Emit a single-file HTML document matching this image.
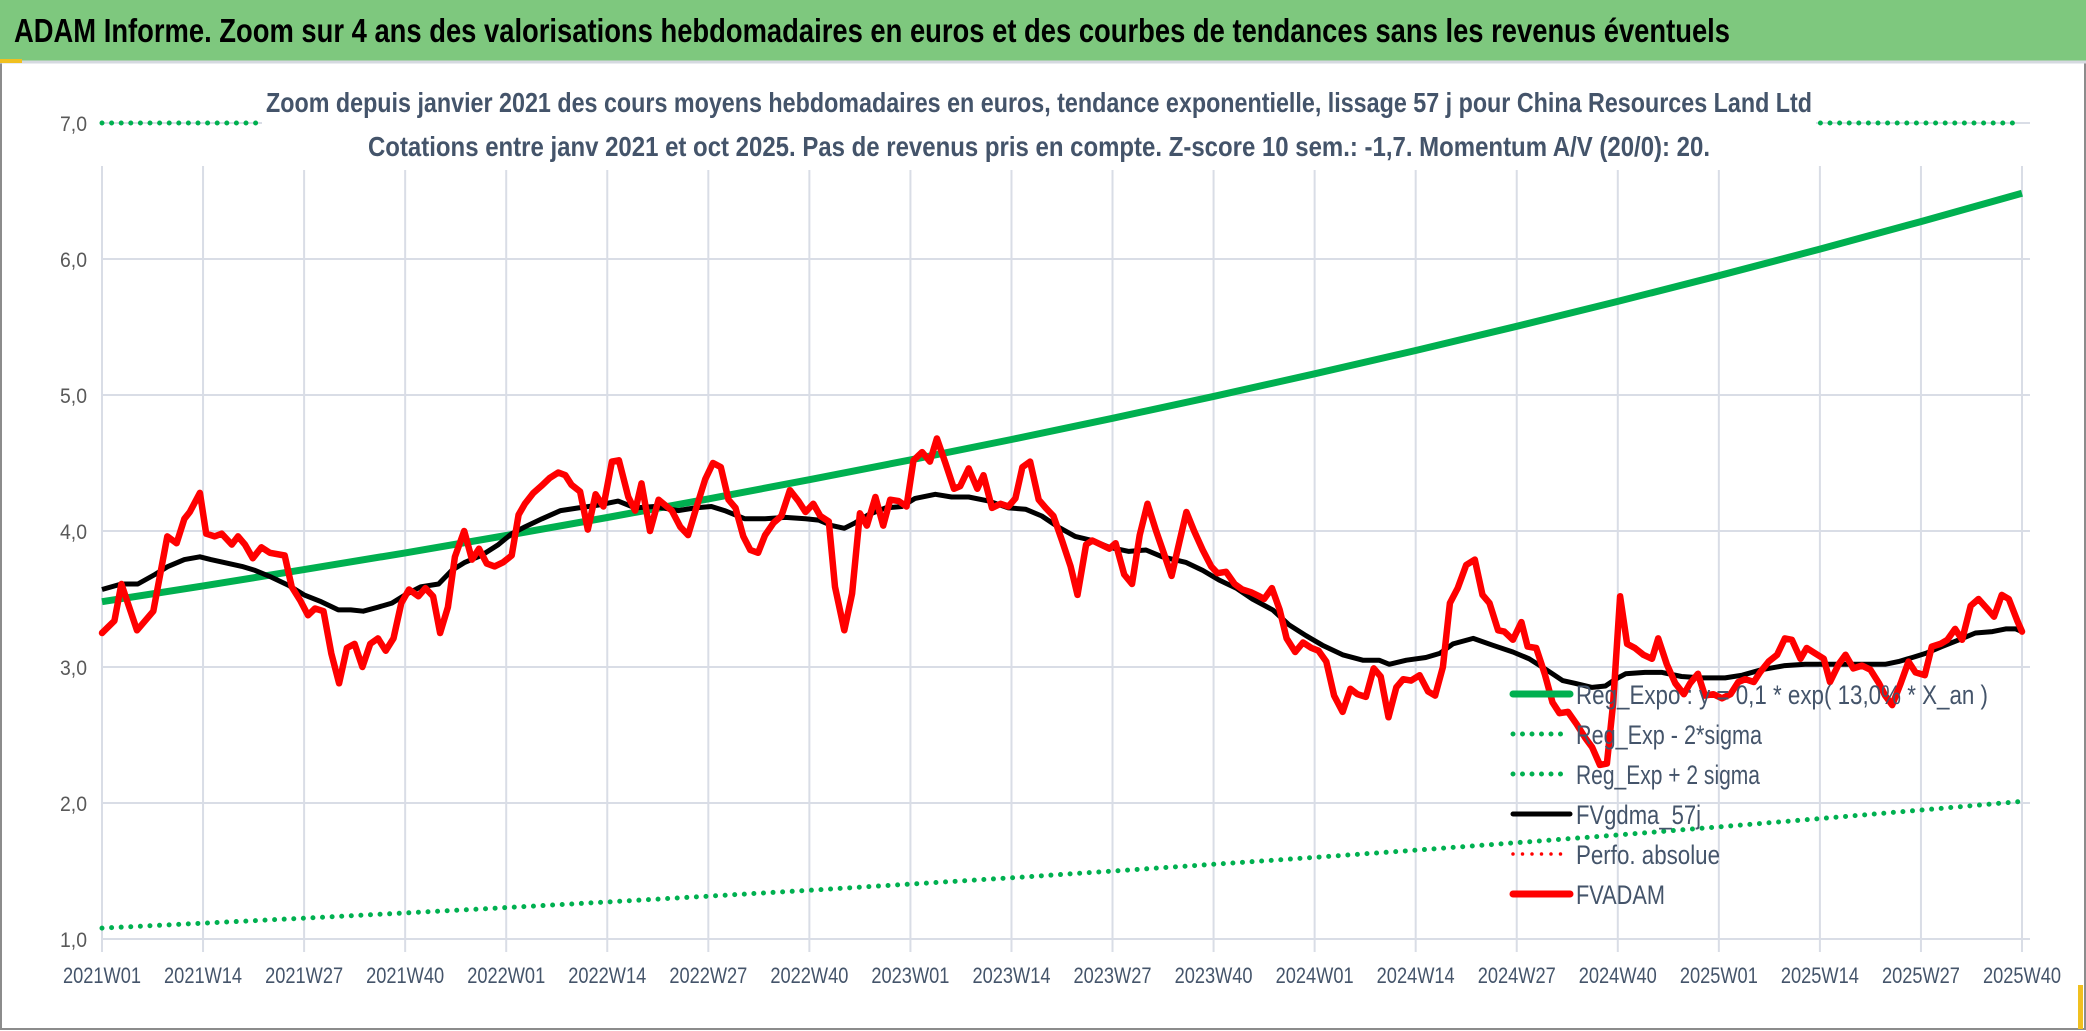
<!DOCTYPE html>
<html><head><meta charset="utf-8"><style>
html,body{margin:0;padding:0;background:#fff;}
svg{display:block;font-family:"Liberation Sans",sans-serif;}
</style></head><body>
<svg id="chart" width="2086" height="1031" viewBox="0 0 2086 1031" xmlns="http://www.w3.org/2000/svg">
<rect x="0" y="0" width="2086" height="1031" fill="#fff"/>
<rect x="1" y="1" width="2084" height="1028" fill="none" stroke="#8c8c8c" stroke-width="2"/>
<rect x="0" y="0" width="2086" height="61" fill="#7ec87e"/>
<line x1="0" y1="62" x2="2086" y2="62" stroke="#d5d9e0" stroke-width="3"/>
<rect x="0" y="59" width="22" height="4" fill="#f0c020"/>
<rect x="2078" y="985" width="5" height="44" fill="#f0c020"/>
<text x="14" y="42" font-size="33" font-weight="bold" fill="#000" textLength="1716" lengthAdjust="spacingAndGlyphs">ADAM Informe. Zoom sur 4 ans des valorisations hebdomadaires en euros et des courbes de tendances sans les revenus éventuels</text>
<g id="grid"></g>
<g id="series"></g>
<rect x="262" y="76" width="1554" height="94" fill="#fff"/>
<text x="1039" y="112" font-size="28" font-weight="bold" fill="#44546a" text-anchor="middle" textLength="1546" lengthAdjust="spacingAndGlyphs">Zoom depuis janvier 2021 des cours moyens hebdomadaires en euros, tendance exponentielle, lissage 57 j pour China Resources Land Ltd</text>
<text x="1039" y="156" font-size="28" font-weight="bold" fill="#44546a" text-anchor="middle" textLength="1342" lengthAdjust="spacingAndGlyphs">Cotations entre janv 2021 et oct 2025. Pas de revenus pris en compte. Z-score 10 sem.: -1,7. Momentum A/V (20/0): 20.</text>
<g id="axes"></g>
<g id="legend"></g>
</svg>
<script>
const tickLabels = ["2021W01","2021W14","2021W27","2021W40","2022W01","2022W14","2022W27","2022W40","2023W01","2023W14","2023W27","2023W40","2024W01","2024W14","2024W27","2024W40","2025W01","2025W14","2025W27","2025W40"];
const yTicks = [1,2,3,4,5,6,7];
const trendValues = [3.48,3.596,3.716,3.839,3.967,4.099,4.236,4.377,4.523,4.673,4.829,4.990,5.156,5.327,5.505,5.688,5.877,6.073,6.275,6.484];
const lowerValues = [1.08,1.116,1.153,1.191,1.231,1.272,1.315,1.358,1.404,1.450,1.499,1.549,1.600,1.653,1.708,1.765,1.824,1.885,1.948,2.012];
const upperValues = [11.2,11.57,11.96,12.36,12.77,13.19,13.63,14.09,14.55,15.04,15.54,16.06,16.59,17.14,17.72,18.31,18.91,19.54,20.19,20.87];
const redWeeks = [0,1.6,2.5,4.5,6.6,8.4,9.6,10.6,11.3,12.6,13.4,14.5,15.4,16.7,17.5,18.4,19.4,20.5,21.6,23.5,24.4,25.5,26.5,27.4,28.5,29.5,30.5,31.5,32.5,33.5,34.5,35.5,36.5,37.5,38.5,39.5,40.7,41.6,42.6,43.5,44.5,45.4,46.6,47.6,48.5,49.5,50.5,51.6,52.7,53.6,54.4,55.5,56.5,57.6,58.7,59.6,60.4,61.5,62.5,63.5,64.5,65.6,66.5,67.7,68.6,69.4,70.5,71.6,73.3,74.4,75.4,76.5,77.6,78.6,79.6,80.6,81.5,82.5,83.4,84.4,85.3,86.4,87.4,88.5,89.6,90.5,91.5,92.4,93.5,94.3,95.5,96.5,97.5,98.4,99.5,100.5,101.4,102.5,103.5,104.4,105.5,106.5,107.4,108.5,109.6,110.4,111.5,112.6,113.4,114.5,115.6,116.6,117.5,118.4,119.4,120.5,121.4,122.4,123.5,124.6,125.5,126.6,127.4,128.5,129.6,130.4,131.5,132.5,133.5,134.5,135.6,136.7,137.6,138.6,139.5,140.5,141.6,142.7,143.5,144.6,145.7,146.7,147.8,148.9,149.5,150.5,151.5,152.4,153.5,154.5,155.6,156.5,157.5,158.5,159.6,160.6,161.5,162.6,163.6,164.5,165.5,166.5,167.4,168.4,169.5,170.6,171.5,172.5,173.4,174.4,175.5,176.6,177.6,178.5,179.6,180.4,181.5,182.6,183.4,184.5,185.6,186.6,187.5,188.6,189.7,190.8,191.7,192.7,193.6,194.4,195.3,196.2,197.2,198.3,199.4,200.2,201.3,202.4,203.5,204.3,205.3,206.2,207.3,208.4,209.5,210.5,211.4,212.5,213.3,214.4,215.5,216.5,217.4,218.5,219.3,220.4,221.5,222.3,223.4,224.3,225.3,226.4,227.5,228.6,229.4,230.3,231.4,232.4,233.3,234.5,235.4,236.5,237.4,238.4,239.3,240.4,241.4,242.5,243.4,244.4,245.3,246.4,247];
const redValues = [3.25,3.34,3.61,3.27,3.41,3.96,3.91,4.09,4.14,4.28,3.98,3.96,3.98,3.9,3.96,3.9,3.8,3.88,3.84,3.82,3.59,3.49,3.38,3.43,3.41,3.1,2.88,3.14,3.17,3.0,3.17,3.21,3.12,3.21,3.47,3.57,3.52,3.58,3.52,3.25,3.44,3.81,4.0,3.79,3.87,3.76,3.74,3.77,3.82,4.12,4.2,4.28,4.33,4.39,4.43,4.41,4.34,4.29,4.01,4.27,4.18,4.51,4.52,4.25,4.15,4.35,4.0,4.23,4.15,4.03,3.97,4.18,4.38,4.5,4.47,4.23,4.17,3.96,3.86,3.84,3.97,4.06,4.11,4.3,4.22,4.14,4.2,4.11,4.07,3.59,3.27,3.54,4.13,4.04,4.25,4.04,4.23,4.22,4.18,4.52,4.58,4.51,4.68,4.5,4.31,4.33,4.46,4.31,4.41,4.17,4.2,4.18,4.24,4.47,4.51,4.23,4.17,4.11,3.93,3.74,3.53,3.9,3.93,3.9,3.87,3.91,3.68,3.61,3.97,4.2,4.0,3.82,3.67,3.92,4.14,4.0,3.86,3.74,3.69,3.7,3.61,3.57,3.55,3.52,3.5,3.58,3.42,3.21,3.11,3.18,3.14,3.12,3.04,2.79,2.67,2.84,2.8,2.78,2.99,2.93,2.63,2.85,2.91,2.9,2.94,2.82,2.79,3.0,3.47,3.58,3.75,3.79,3.53,3.47,3.27,3.26,3.2,3.33,3.15,3.14,2.95,2.74,2.66,2.67,2.58,2.48,2.41,2.28,2.29,2.73,3.52,3.17,3.14,3.09,3.06,3.21,3.02,2.88,2.8,2.88,2.95,2.79,2.8,2.77,2.8,2.89,2.91,2.89,2.96,3.04,3.09,3.21,3.2,3.06,3.14,3.1,3.06,2.89,3.02,3.09,2.99,3.01,2.98,2.88,2.79,2.72,2.88,3.04,2.96,2.94,3.15,3.17,3.2,3.28,3.2,3.45,3.5,3.43,3.37,3.53,3.5,3.34,3.26];
const maWeeks = [0,2.5,4.6,6.8,8.5,10.6,12.6,14,15.6,18,19.7,21.8,24,26,28.2,30.4,32,33.6,35.5,37.3,39,41,43.3,45,46.7,48.8,51,52.7,54.4,56.6,59,61.3,63.8,66.4,68.6,71.1,74.1,76.3,78.4,80.1,82.7,85.3,87.9,90.5,92.2,93.9,95.5,96.9,98.6,100.8,102.9,104.6,107.2,109.3,111.5,114.1,116.6,118.8,120.9,123,125.2,127.4,129.6,132.1,134.3,136.4,139.4,141.6,143.7,145.9,148,150.6,152.7,154.9,157,159.6,162.2,164.3,165.6,167.8,170.3,172.1,173.8,176.4,178.9,181.5,183.6,185.8,187.9,189.5,191.7,193.4,194.7,196,198.5,200.7,203.2,205.8,208.8,211,213.5,216.5,219.1,221.7,224.3,226.8,229.4,231.1,232.9,234.6,236.7,238.9,241,243.2,244.9,246.2,247];
const maValues = [3.57,3.61,3.61,3.68,3.74,3.79,3.81,3.79,3.77,3.74,3.71,3.66,3.6,3.53,3.48,3.42,3.42,3.41,3.44,3.47,3.53,3.59,3.61,3.71,3.77,3.82,3.9,3.98,4.03,4.09,4.15,4.17,4.19,4.22,4.17,4.18,4.15,4.17,4.18,4.15,4.09,4.09,4.1,4.09,4.08,4.04,4.02,4.06,4.12,4.17,4.18,4.24,4.27,4.25,4.25,4.22,4.17,4.16,4.11,4.03,3.96,3.93,3.88,3.85,3.86,3.81,3.77,3.71,3.64,3.58,3.5,3.42,3.31,3.23,3.16,3.09,3.05,3.05,3.02,3.05,3.07,3.1,3.17,3.21,3.16,3.11,3.06,2.98,2.9,2.88,2.85,2.86,2.91,2.95,2.96,2.96,2.93,2.92,2.92,2.94,2.98,3.01,3.02,3.02,3.02,3.02,3.02,3.04,3.07,3.1,3.15,3.2,3.25,3.26,3.28,3.28,3.26];

const NS = "http://www.w3.org/2000/svg";
const X0 = 102, X1 = 2022, WEEKS = 247, TICKSTEP = 13;
const Y0 = 939, YPER = 136, YMIN = 1, YMAX = 7;
function xScale(w){ return X0 + (X1 - X0) * w / WEEKS; }
function yScale(v){ return Y0 - (v - YMIN) * YPER; }
function mk(tag, attrs, parent){
  const el = document.createElementNS(NS, tag);
  for (const k in attrs) el.setAttribute(k, attrs[k]);
  parent.appendChild(el);
  return el;
}
const grid = document.getElementById('grid');
const axes = document.getElementById('axes');
const series = document.getElementById('series');
const legend = document.getElementById('legend');

yTicks.forEach(function(v){
  const y = yScale(v);
  const gl = mk('line', {x1: X0, x2: 2030, y1: y, y2: y, stroke: '#d9dde6', 'stroke-width': 2}, grid);
  
  
  const t = mk('text', {x: 87, y: y + 8, 'font-size': 21, fill: '#595959', 'text-anchor': 'end', textLength: 27, lengthAdjust: 'spacingAndGlyphs'}, axes);
  t.textContent = v.toFixed(1).replace('.', ',');
  
  
});
tickLabels.forEach(function(lab, i){
  const x = xScale(i * TICKSTEP);
  const gl = mk('line', {x1: x, x2: x, y1: 166, y2: 952, stroke: '#d9dde6', 'stroke-width': 2}, grid);
  
  
  const t = mk('text', {x: x, y: 983, 'font-size': 22, fill: '#44546a', 'text-anchor': 'middle', textLength: 78, lengthAdjust: 'spacingAndGlyphs'}, axes);
  t.textContent = lab;
  
  
});

function pathFrom(ws, vs){
  return ws.map(function(w, i){ return (i ? 'L' : 'M') + xScale(w).toFixed(1) + ' ' + yScale(Math.min(YMAX, vs[i])).toFixed(1); }).join(' ');
}
const tickWeeks = tickLabels.map(function(_, i){ return i * TICKSTEP; });

const upper = mk('path', {d: pathFrom(tickWeeks, upperValues), fill: 'none', stroke: '#00b050', 'stroke-width': 5, 'stroke-linecap': 'round', 'stroke-dasharray': '0 9.6'}, series);


const lower = mk('path', {d: pathFrom(tickWeeks, lowerValues), fill: 'none', stroke: '#00b050', 'stroke-width': 5, 'stroke-linecap': 'round', 'stroke-dasharray': '0 9.6'}, series);


const trend = mk('path', {d: pathFrom(tickWeeks, trendValues), fill: 'none', stroke: '#00b050', 'stroke-width': 7, 'stroke-linejoin': 'round'}, series);


const ma = mk('path', {d: pathFrom(maWeeks, maValues), fill: 'none', stroke: '#000', 'stroke-width': 5, 'stroke-linejoin': 'round'}, series);


const red = mk('path', {d: pathFrom(redWeeks, redValues), fill: 'none', stroke: '#ff0000', 'stroke-width': 6.5, 'stroke-linejoin': 'round', 'stroke-linecap': 'round'}, series);



const legendItems = [
  {label: 'Reg_Expo : y = 0,1 * exp( 13,0% *  X_an )', color: '#00b050', dots: false, w: 7, len: 412},
  {label: 'Reg_Exp - 2*sigma', color: '#00b050', dots: true, w: 5, len: 186},
  {label: 'Reg_Exp + 2 sigma', color: '#00b050', dots: true, w: 5, len: 184},
  {label: 'FVgdma_57j', color: '#000', dots: false, w: 5, len: 125},
  {label: 'Perfo. absolue', color: '#ff0000', dots: true, w: 3.5, len: 144},
  {label: 'FVADAM', color: '#ff0000', dots: false, w: 7, len: 89}
];
legendItems.forEach(function(it, i){
  const y = 694 + i * 40;
  const g = mk('g', {}, legend);
  
  
  const ln = mk('line', {x1: 1513, x2: 1570, y1: y, y2: y, stroke: it.color, 'stroke-width': it.w, 'stroke-linecap': 'round'}, g);
  if (it.dots) ln.setAttribute('stroke-dasharray', '0 9.5');
  
  
  const t = mk('text', {x: 1576, y: y + 10, 'font-size': 27, fill: '#44546a', textLength: it.len, lengthAdjust: 'spacingAndGlyphs'}, g);
  t.textContent = it.label;
  
  
});
</script>
</body></html>
